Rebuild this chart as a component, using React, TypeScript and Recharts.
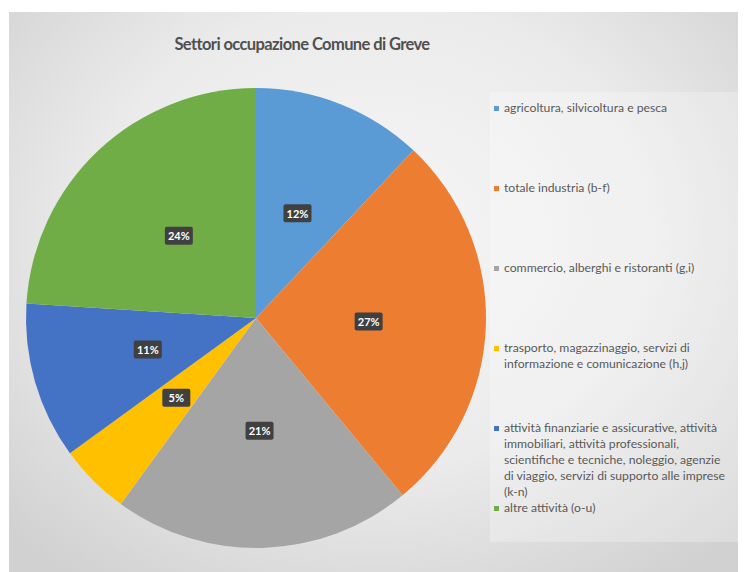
import { PieChart, Pie, Cell, Legend } from "recharts";

const SECTORS = [
  "agricoltura, silvicoltura e pesca",
  "totale industria (b-f)",
  "commercio, alberghi e ristoranti (g,i)",
  "trasporto, magazzinaggio, servizi di informazione e comunicazione (h,j)",
  "attività finanziarie e assicurative, attività immobiliari, attività professionali, scientifiche e tecniche, noleggio, agenzie di viaggio, servizi di supporto alle imprese (k-n)",
  "altre attività (o-u)",
];
const SHARES = [12, 27, 21, 5, 11, 24];
const COLORS = ["#5B9BD5", "#ED7D31", "#A5A5A5", "#FFC000", "#4472C4", "#70AD47"];

const data = SECTORS.map((name, i) => ({ name, value: SHARES[i] }));

const RAD = Math.PI / 180;
const FONT = "Lato, 'Noto Sans', sans-serif";

function renderLabel(props: any) {
  const { cx, cy, midAngle, outerRadius, percent } = props;
  const r = outerRadius * 0.49;
  const x = cx + r * Math.cos(-midAngle * RAD);
  const y = cy + r * Math.sin(-midAngle * RAD);
  return (
    <g>
      <rect x={x - 14} y={y - 9} width={28} height={18} rx={2} fill="#404040" />
      <text
        x={x}
        y={y}
        textAnchor="middle"
        dominantBaseline="central"
        fill="#ffffff"
        fontSize={11}
        fontWeight="bold"
        fontFamily={FONT}
      >
        {`${Math.round(percent * 100)}%`}
      </text>
    </g>
  );
}

// legend drawn in the data order (recharts would sort it by name)
function LegendList() {
  return (
    <div style={{ width: 236 }}>
      {SECTORS.map((name, i) => (
        <div
          key={name}
          style={{
            display: "flex",
            alignItems: "flex-start",
            minHeight: i < SECTORS.length - 1 ? 80 : 16,
            fontSize: 12.2,
            lineHeight: "16px",
            color: "#595959",
            fontFamily: FONT,
          }}
        >
          <span
            style={{
              display: "inline-block",
              width: 5,
              height: 5,
              background: COLORS[i],
              marginTop: 6,
              marginRight: 5,
              flexShrink: 0,
            }}
          />
          <span>{name}</span>
        </div>
      ))}
    </div>
  );
}

export default function App() {
  return (
    <div style={{ paddingTop: 4 }}>
      <div
        style={{
          position: "relative",
          marginLeft: 1,
          width: 731,
          height: 560,
          background:
            "radial-gradient(ellipse 70% 75% at 50% 40%, #f6f6f6 0%, #ebebeb 55%, #d1d1d1 100%)",
        }}
      >
        <div
          style={{
            position: "absolute",
            left: 481,
            top: 80,
            width: 250,
            height: 450,
            background: "rgba(255,255,255,0.25)",
          }}
        />
        <div
          style={{
            position: "absolute",
            left: 0,
            top: 22,
            width: 586,
            textAlign: "center",
            fontFamily: FONT,
            fontSize: 16.5,
            letterSpacing: -0.6,
            fontWeight: "bold",
            color: "#505050",
          }}
        >
          Settori occupazione Comune di Greve
        </div>
        <PieChart width={731} height={560} style={{ position: "absolute", left: 0, top: 0 }}>
          <Pie
            data={data}
            dataKey="value"
            nameKey="name"
            cx={242}
            cy={301}
            outerRadius={230}
            startAngle={90}
            endAngle={-270}
            stroke="none"
            label={renderLabel}
            labelLine={false}
            isAnimationActive={false}
          >
            {data.map((_, i) => (
              <Cell key={i} fill={COLORS[i]} />
            ))}
          </Pie>
          <Legend
            layout="vertical"
            content={<LegendList />}
            wrapperStyle={{ position: "absolute", left: 485, top: 88, width: 236 }}
          />
        </PieChart>
      </div>
    </div>
  );
}
